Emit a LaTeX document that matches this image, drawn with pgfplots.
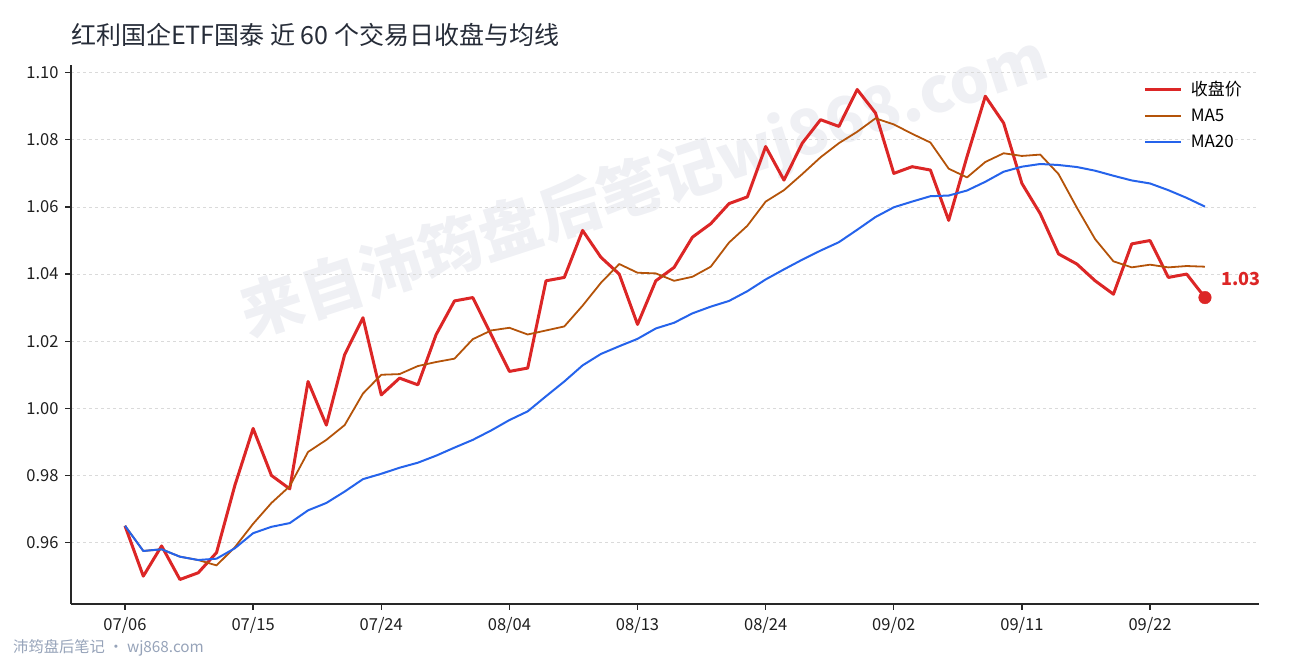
\documentclass[border=0pt]{standalone}
\usepackage{fontspec}
\setmainfont{Noto Sans CJK SC}
\usepackage{pgfplots}
\usepackage{pgfplotstable}
\pgfplotsset{compat=1.18}

\definecolor{closered}{RGB}{220,38,38}
\definecolor{maorange}{RGB}{180,83,9}
\definecolor{mablue}{RGB}{37,99,235}
\definecolor{titlecol}{RGB}{38,44,56}
\definecolor{axiscol}{RGB}{40,40,40}
\definecolor{gridcol}{RGB}{218,218,218}
\definecolor{wmcol}{RGB}{239,240,244}
\definecolor{footcol}{RGB}{150,163,185}

% i close ma5 ma20
\pgfplotstableread{
i close ma5 ma20
0 0.965 0.9650 0.9650
1 0.950 0.9575 0.9575
2 0.959 0.9580 0.9580
3 0.949 0.9558 0.9558
4 0.951 0.9548 0.9548
5 0.957 0.9532 0.9552
6 0.977 0.9586 0.9583
7 0.994 0.9656 0.9628
8 0.980 0.9718 0.9647
9 0.976 0.9768 0.9658
10 1.008 0.9870 0.9696
11 0.995 0.9906 0.9718
12 1.016 0.9950 0.9752
13 1.027 1.0044 0.9789
14 1.004 1.0100 0.9805
15 1.009 1.0102 0.9823
16 1.007 1.0126 0.9838
17 1.022 1.0138 0.9859
18 1.032 1.0148 0.9883
19 1.033 1.0206 0.9906
20 1.022 1.0232 0.9934
21 1.011 1.0240 0.9965
22 1.012 1.0220 0.9991
23 1.038 1.0232 1.0036
24 1.039 1.0244 1.0080
25 1.053 1.0306 1.0128
26 1.045 1.0374 1.0162
27 1.040 1.0430 1.0185
28 1.025 1.0404 1.0207
29 1.038 1.0402 1.0238
30 1.042 1.0380 1.0255
31 1.051 1.0392 1.0283
32 1.055 1.0422 1.0303
33 1.061 1.0494 1.0320
34 1.063 1.0544 1.0349
35 1.078 1.0616 1.0384
36 1.068 1.0650 1.0414
37 1.079 1.0698 1.0443
38 1.086 1.0748 1.0470
39 1.084 1.0790 1.0495
40 1.095 1.0824 1.0532
41 1.088 1.0864 1.0570
42 1.070 1.0846 1.0599
43 1.072 1.0818 1.0616
44 1.071 1.0792 1.0632
45 1.056 1.0714 1.0634
46 1.075 1.0688 1.0649
47 1.093 1.0734 1.0675
48 1.085 1.0760 1.0705
49 1.067 1.0752 1.0720
50 1.058 1.0756 1.0728
51 1.046 1.0698 1.0725
52 1.043 1.0598 1.0719
53 1.038 1.0504 1.0708
54 1.034 1.0438 1.0693
55 1.049 1.0420 1.0679
56 1.050 1.0428 1.0670
57 1.039 1.0420 1.0650
58 1.040 1.0424 1.0627
59 1.033 1.0422 1.0601
}\etfdata

\begin{document}
\begin{tikzpicture}
\useasboundingbox (0pt,0pt) rectangle (1290pt,660pt);

% watermark
\node[rotate=18, text=wmcol, font=\fontsize{62.5pt}{66pt}\selectfont\bfseries]
  at (645pt,472pt) {来自沛筠盘后笔记wj868.com};

\begin{axis}[
    at={(71pt,56pt)}, anchor=south west,
    scale only axis,
    width=1188pt, height=539pt,
    xmin=-2.95, xmax=61.95,
    ymin=0.9417, ymax=1.1023,
    axis lines*=left,
    axis line style={-, draw=axiscol, line width=1.6pt},
    tick align=outside,
    major tick length=6pt,
    tick style={draw=axiscol, line width=1.3pt},
    xtick={0,7,14,21,28,35,42,49,56},
    xticklabels={07/06,07/15,07/24,08/04,08/13,08/24,09/02,09/11,09/22},
    ytick={0.96,0.98,1.00,1.02,1.04,1.06,1.08,1.10},
    ticklabel style={font=\fontsize{16.5pt}{19pt}\selectfont, text=black!88},
    xticklabel style={yshift=-4pt},
    yticklabel style={xshift=-3pt, /pgf/number format/.cd, fixed, fixed zerofill, precision=2, assume math mode=true},
    ymajorgrids=true,
    grid style={dashed, draw=gridcol, line width=0.8pt},
    clip=false,
    legend cell align=left,
    legend image code/.code={\draw[#1] (0pt,0pt) -- (36pt,0pt);},
    legend style={at={(1,1)}, anchor=north east, xshift=-12pt, yshift=-12pt,
        draw=none, fill=none, font=\fontsize{17pt}{20pt}\selectfont,
        row sep=8pt, column sep=6pt, nodes={inner sep=2pt}},
]
\addplot[closered, line width=3pt, line join=round] table[x=i, y=close] {\etfdata};
\addlegendentry{收盘价}
\addplot[maorange, line width=1.8pt, line join=round] table[x=i, y=ma5] {\etfdata};
\addlegendentry{MA5}
\addplot[mablue, line width=2pt, line join=round] table[x=i, y=ma20] {\etfdata};
\addlegendentry{MA20}
\addplot[only marks, mark=*, mark size=6.3pt, color=closered, forget plot] coordinates {(59,1.033)};
\node[anchor=base west, text=closered, font=\fontsize{18pt}{21pt}\selectfont\bfseries]
  at (axis cs:59,1.033) [shift={(13pt,12pt)}] {1.03};
\end{axis}

% title and footer
\node[anchor=base west, text=titlecol, font=\fontsize{25pt}{29pt}\selectfont, inner sep=0pt]
  at (71pt,615pt) {红利国企ETF国泰 近 60 个交易日收盘与均线};
\node[anchor=base west, text=footcol, font=\fontsize{15.3pt}{18pt}\selectfont, inner sep=0pt]
  at (13pt,7pt) {沛筠盘后笔记 · wj868.com};
\end{tikzpicture}
\end{document}
